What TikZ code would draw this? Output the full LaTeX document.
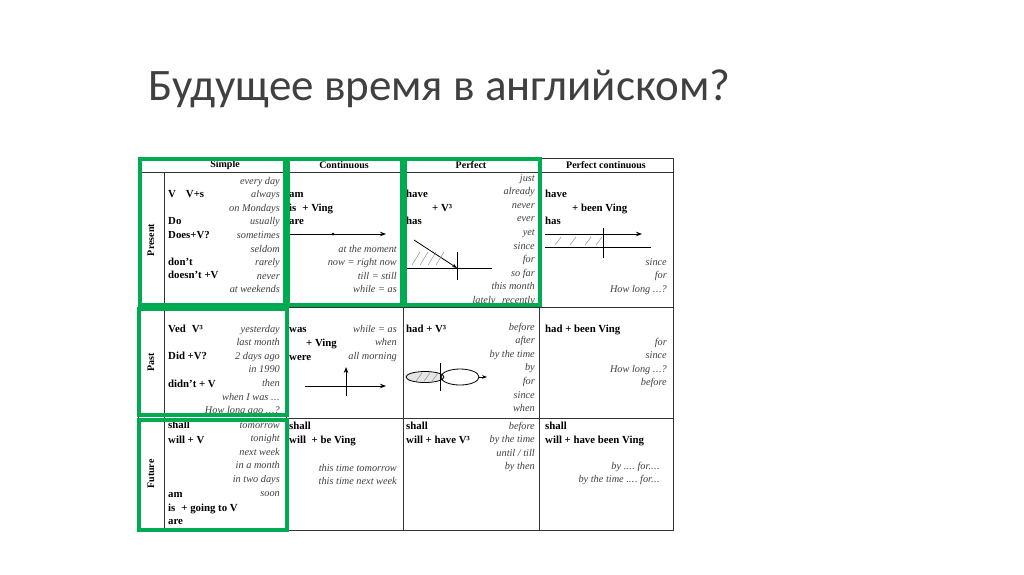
\documentclass[tikz,border=0pt]{standalone}
\usepackage{fontspec}
\setmainfont{Liberation Serif}
\newfontfamily\titlefont{Carlito}
\usetikzlibrary{arrows.meta}
\newcommand\dd{.\kern0.5pt.\kern0.5pt.}
\tikzset{
 it/.style={font=\fontsize{10.3}{11}\selectfont\itshape, text=black!75, inner sep=0pt, anchor=base east},
 bf/.style={font=\fontsize{10.8}{11}\selectfont\bfseries, inner sep=0pt, anchor=base west},
 hd/.style={font=\fontsize{10}{11}\selectfont\bfseries, inner sep=0pt},
 grid/.style={line width=0.7pt, black!80},
 gbox/.style={line width=3.5pt, draw={rgb,255:red,0;green,170;blue,80}},
 thin/.style={line width=0.8pt},
 hatch/.style={line width=0.4pt, black!50}
}
\newcommand\rlist[4]{\foreach \t [count=\i] in {#4} \node[it] (#1\i) at (#2,{#3+13.6*(\i-1)}) {\t};}
\begin{document}
\begin{tikzpicture}[x=1pt,y=-1pt]
\useasboundingbox (0,0) rectangle (1024,574);
\node[font=\titlefont\fontsize{45}{48}\selectfont, anchor=base west, inner sep=0pt, text=black!75] (title) at (148,100) {Будущее время в английском?};
% grid
\draw[grid] (138,158) rectangle (673,530);
\foreach \y in {172,307,418} \draw[grid] (138,\y) -- (673,\y);
\draw[grid] (164,172) -- (164,530);
\foreach \x in {286,403,539} \draw[grid] (\x,158) -- (\x,530);
% headers
\node[hd] (hs) at (225,165) {Simple};
\node[hd] (hc) at (344,165) {Continuous};
\node[hd] (hp) at (471,165) {Perfect};
\node[hd] (hpc) at (606,165) {Perfect continuous};
\node[hd, rotate=90] (rpr) at (151,240) {Present};
\node[hd, rotate=90] (rpa) at (151,362) {Past};
\node[hd, rotate=90] (rfu) at (151,474) {Future};
% present simple
\rlist{a}{280}{184}{every day,always,on Mondays,usually,sometimes,seldom,rarely,never,at weekends}
\node[bf] (a10) at (168,197) {V\hspace{10pt}V+s};
\node[bf] (a11) at (168,224) {Do};
\node[bf] (a12) at (168,238) {Does+V?};
\node[bf] (a13) at (168,265) {don't};
\node[bf] (a14) at (168,278) {doesn't +V};
% present continuous
\node[bf] (b1) at (289,197) {am};
\node[bf] (b2) at (289,211) {is\hspace{6pt}+ Ving};
\node[bf] (b3) at (289,224) {are};
\coordinate (b4) at (290,234); \coordinate (b5) at (386,234);
\draw[thin,-{Stealth[length=6pt]}] (b4) -- (b5);
\fill (333,234) circle (1.5);
\rlist{b}{397}{252}{at the moment,now = right now,till = still,while = as}
% present perfect
\node[bf] (c1) at (406,197) {have};
\node[bf] (c2) at (432,211) {+ V³};
\node[bf] (c3) at (406,224) {has};
\rlist{c}{535}{181}{just,already,never,ever,yet,since,for,so far,this month,lately\hspace{4pt} recently}
\coordinate (c20) at (414,240); \coordinate (c21) at (457,268);
\draw[thin,-{Stealth[length=5pt]}] (c20) -- (c21);
\draw[thin] (406,268) -- (492,268); \draw[thin] (457,252) -- (457,280);
\foreach \x in {412,420,428,436} \draw[hatch] (\x,265) -- (\x+8,252);
% present perfect continuous
\node[bf] (d1) at (545,197) {have};
\node[bf] (d2) at (572,211) {+ been Ving};
\node[bf] (d3) at (545,224) {has};
\coordinate (d4) at (545,234); \coordinate (d5) at (642,234);
\draw[thin,-{Stealth[length=6pt]}] (d4) -- (d5);
\draw[thin] (545,247) -- (651,247); \draw[thin] (603,228) -- (603,258);
\foreach \x in {555,570,585,596} \draw[hatch] (\x,245) -- (\x+6,237);
\rlist{d}{667}{265}{since,for,How long \dd?}
% past simple
\node[bf] (e1) at (168,332) {Ved\hspace{6pt}V³};
\node[bf] (e2) at (168,359) {Did +V?};
\node[bf] (e3) at (168,387) {didn't + V};
\rlist{e}{280}{332}{yesterday,last month,2 days ago,in 1990,then,when I was \dd,How long ago \dd?}
% past continuous
\node[bf] (f1) at (289,332) {was};
\node[bf] (f2) at (306,346) {+ Ving};
\node[bf] (f3) at (289,360) {were};
\rlist{f}{397}{332}{while = as,when,all morning}
\coordinate (f10) at (305,386); \coordinate (f11) at (386,386);
\draw[thin,-{Stealth[length=6pt]}] (f10) -- (f11);
\coordinate (f12) at (346,396); \coordinate (f13) at (346,367);
\draw[thin,-{Stealth[length=6pt]}] (f12) -- (f13);
% past perfect
\node[bf] (g1) at (406,332) {had + V³};
\rlist{g}{535}{330}{before,after,by the time,by,for,since,when}
\draw[thin,fill=black!10] (425,377) ellipse (19 and 5.5);
\foreach \x in {416,424,432} \draw[hatch] (\x,381) -- (\x+6,373);
\draw[thin] (460,377) ellipse (19 and 8);
\coordinate (g10) at (479,377); \coordinate (g11) at (487,377);
\draw[thin,-{Stealth[length=5pt]}] (g10) -- (g11);
\draw[thin] (440,363) -- (440,391);
% past perfect continuous
\node[bf] (h1) at (545,332) {had + been Ving};
\rlist{h}{667}{345}{for,since,How long \dd?,before}
% future simple
\begin{scope}
\clip (164,419) rectangle (286,530);
\node[bf] (i1) at (168,428) {shall};
\rlist{i}{280}{428}{tomorrow,tonight,next week,in a month,in two days,soon}
\end{scope}
\node[bf] (i10) at (168,443) {will + V};
\node[bf] (i11) at (168,497) {am};
\node[bf] (i12) at (168,511) {is\hspace{6pt}+ going to V};
\node[bf] (i13) at (168,524) {are};
% future continuous
\node[bf] (j1) at (289,429) {shall};
\node[bf] (j2) at (289,443) {will\hspace{3pt} + be Ving};
\rlist{j}{397}{471}{this time tomorrow,this time next week}
% future perfect
\node[bf] (k1) at (406,429) {shall};
\node[bf] (k2) at (406,443) {will + have V³};
\rlist{k}{535}{429}{before,by the time,until / till,by then}
% future perfect continuous
\node[bf] (l1) at (545,429) {shall};
\node[bf] (l2) at (545,443) {will + have been Ving};
\rlist{l}{660}{469}{by .\dd\ for.\dd,by the time .\dd\ for\dd}
% green boxes
\draw[gbox] (140,159) rectangle (285,305);
\draw[gbox] (288,159) rectangle (402,305);
\draw[gbox] (405,159) rectangle (540,305);
\draw[gbox] (139,309) rectangle (287,415);
\draw[gbox] (139,420) rectangle (287,530);
\end{tikzpicture}
\end{document}
